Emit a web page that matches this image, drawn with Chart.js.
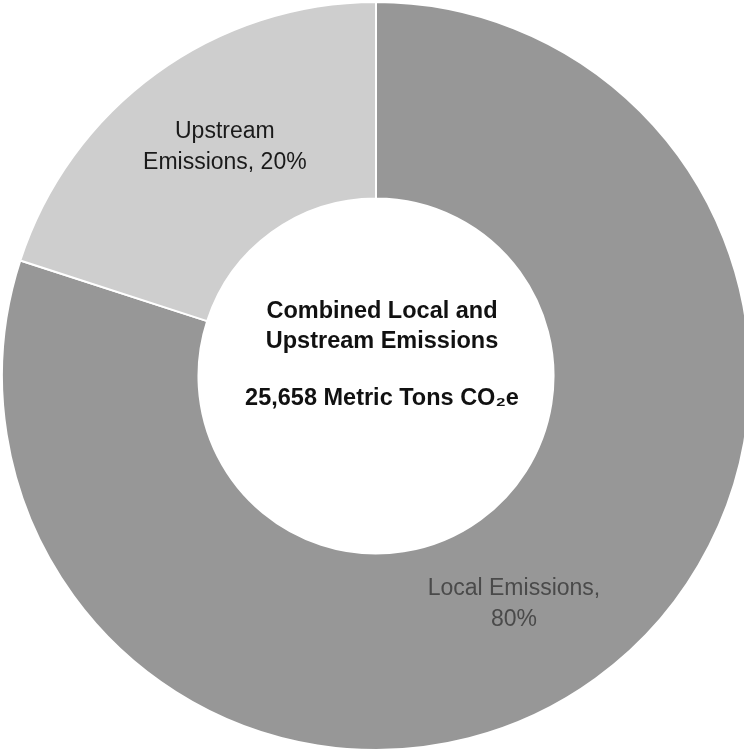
<!DOCTYPE html>
<html>
<head>
<meta charset="utf-8">
<script src="https://cdn.jsdelivr.net/npm/chart.js@4/dist/chart.umd.min.js"></script>
<style>
  html, body { margin: 0; padding: 0; background: #fff; overflow: hidden; }
  #wrap { width: 752px; height: 756px; }
</style>
</head>
<body>
<div id="wrap"><canvas id="emissions" width="752" height="756"></canvas></div>
<script>
// Emission sources and their share of the total (percent)
const sources = ['Local Emissions', 'Upstream Emissions'];
const shares = [80, 20];
const sliceColors = ['#979797', '#cecece'];
const labelColors = ['#4a4a4a', '#1a1a1a'];
const totalTons = '25,658';
const centerLines = ['Combined Local and', 'Upstream Emissions'];

// where each slice label sits: fraction along the arc and distance from centre
const labelPlacement = [
  { frac: 0.517, r: 267, lines: ['Local Emissions,', '80%'] },
  { frac: 0.535, r: 274, lines: ['Upstream', 'Emissions, 20%'] }
];

const sliceLabels = {
  id: 'sliceLabels',
  afterDatasetsDraw(chart) {
    const ctx = chart.ctx;
    const arcs = chart.getDatasetMeta(0).data;
    ctx.save();
    ctx.textAlign = 'center';
    ctx.textBaseline = 'middle';
    ctx.font = '23px "Liberation Sans", Arial, sans-serif';
    arcs.forEach((arc, i) => {
      const p = labelPlacement[i];
      const a = arc.startAngle + (arc.endAngle - arc.startAngle) * p.frac;
      const x = arc.x + Math.cos(a) * p.r;
      const y = arc.y + Math.sin(a) * p.r;
      ctx.fillStyle = labelColors[i];
      p.lines.forEach((t, k) => {
        ctx.fillText(t, x, y + (k - (p.lines.length - 1) / 2) * 31);
      });
    });

    // text in the hole
    const c = arcs[0];
    const cx = c.x + 6;
    ctx.fillStyle = '#111';
    ctx.font = 'bold 23.5px "Liberation Sans", Arial, sans-serif';
    ctx.fillText(centerLines[0], cx, c.y - 64);
    ctx.fillText(centerLines[1], cx, c.y - 34);
    ctx.fillText(totalTons + ' Metric Tons CO\u2082e', cx, c.y + 23);
    ctx.restore();
  }
};

new Chart(document.getElementById('emissions'), {
  type: 'doughnut',
  data: {
    labels: sources,
    datasets: [{
      data: shares,
      backgroundColor: sliceColors,
      borderColor: '#ffffff',
      borderWidth: 2
    }]
  },
  options: {
    responsive: false,
    animation: false,
    radius: 374,
    cutout: 178,
    layout: { padding: { bottom: 4 } },
    plugins: {
      legend: { display: false },
      tooltip: { enabled: false }
    }
  },
  plugins: [sliceLabels]
});
</script>
</body>
</html>
